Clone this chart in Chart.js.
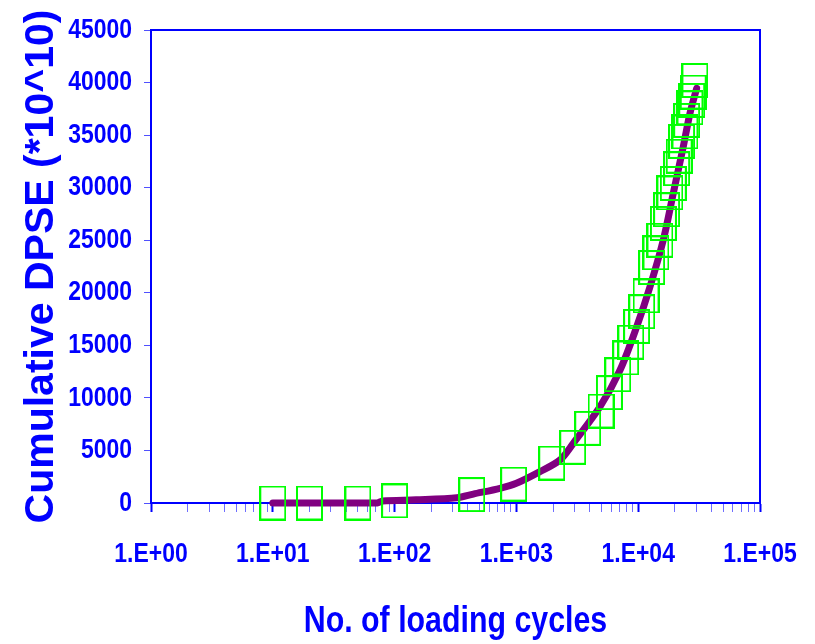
<!DOCTYPE html>
<html lang="en">
<head>
    <meta charset="UTF-8">
    <title>Cumulative DPSE vs loading cycles</title>
    <script src="https://cdn.jsdelivr.net/npm/chart.js"></script>
    <style>
        body {
            margin: 0;
            background: #fff;
        }
        #wrap {
            width: 815px;
            height: 644px;
        }
    </style>
</head>
<body>
    <div id="wrap">
        <canvas id="dpse-chart" width="815" height="644"></canvas>
    </div>

    <script>
        // Measured points (green boxes)
        const markerCycles = [10, 20, 50, 100, 430, 950, 1950, 2900, 3850, 4950, 5800, 6800, 7900, 8700, 9700,
            10700, 11600, 12900, 14000, 15100, 16100, 17100, 18200, 19400, 20700, 21700, 22700, 24200, 25000,
            26600, 27500, 28300, 29200];
        const markerDpse = [0, 0, 0, 200, 800, 1800, 3800, 5300, 7100, 8750, 10500, 12200, 13800, 15300, 16800,
            18200, 19700, 22400, 23800, 25000, 26600, 27900, 29500, 30400, 31800, 33000, 34400, 35300, 36400,
            37600, 38300, 39100, 40200];

        // Continuous curve (purple)
        const curveCycles = [10, 20, 50, 72, 80, 150, 324, 443, 733, 1000, 1560, 2280, 2930, 4860, 7100, 9720,
            12500, 16070, 19410, 23440, 26610, 30200];
        const curveDpse = [0, 0, 0, 0, 200, 300, 500, 850, 1400, 1870, 2980, 4090, 5680, 9160, 12650, 16770,
            20580, 25020, 29460, 33900, 37070, 39450];

        const xDecades = [1, 10, 100, 1000, 10000, 100000];
        const xTickLabels = ['1.E+00', '1.E+01', '1.E+02', '1.E+03', '1.E+04', '1.E+05'];
        const yTickValues = [0, 5000, 10000, 15000, 20000, 25000, 30000, 35000, 40000, 45000];

        const BLUE = '#0000ff';
        // no narrow face installed: Liberation Sans gets squeezed sideways when this name is asked for
        const narrow = '"Arial Narrow", "Liberation Sans", Arial, sans-serif';
        const SQUEEZE = 0.82;

        // hollow box marker, a bit taller than wide like the original
        function boxMarker(w, h) {
            const c = document.createElement('canvas');
            c.width = w + 2;
            c.height = h + 2;
            const g = c.getContext('2d');
            g.strokeStyle = '#00ff00';
            g.lineWidth = 2;
            g.strokeRect(1, 1, w, h);
            return c;
        }
        const marker = boxMarker(25, 33);

        // box around the plot area
        const frame = {
            id: 'frame',
            beforeDatasetsDraw(chart) {
                const a = chart.chartArea;
                const ctx = chart.ctx;
                ctx.save();
                ctx.strokeStyle = BLUE;
                ctx.lineWidth = 2;
                ctx.strokeRect(a.left, a.top, a.right - a.left, a.bottom - a.top);
                ctx.restore();
            }
        };

        const ctx = document.getElementById('dpse-chart').getContext('2d');

        // condensed text hack
        const origFillText = ctx.fillText.bind(ctx);
        ctx.fillText = function (text, x, y, maxWidth) {
            if (this.font.indexOf('Arial Narrow') < 0) {
                return maxWidth === undefined ? origFillText(text, x, y) : origFillText(text, x, y, maxWidth);
            }
            this.save();
            this.translate(x, y);
            this.scale(SQUEEZE, 1);
            origFillText(text, 0, 0);
            this.restore();
        };

        new Chart(ctx, {
            type: 'scatter',
            data: {
                datasets: [{
                    label: 'Measured',
                    data: markerCycles.map((x, i) => ({ x: x, y: markerDpse[i] })),
                    pointStyle: marker,
                    pointRadius: 12,
                    showLine: false,
                    clip: false
                }, {
                    label: 'Curve',
                    data: curveCycles.map((x, i) => ({ x: x, y: curveDpse[i] })),
                    showLine: true,
                    borderColor: '#800080',
                    borderWidth: 7,
                    borderCapStyle: 'round',
                    borderJoinStyle: 'round',
                    tension: 0.3,
                    pointRadius: 0,
                    clip: false
                }]
            },
            options: {
                responsive: false,
                animation: false,
                layout: {
                    padding: { left: 0, top: 30, right: 55, bottom: 0 }
                },
                plugins: {
                    legend: { display: false },
                    tooltip: { enabled: false }
                },
                scales: {
                    x: {
                        type: 'logarithmic',
                        min: 1,
                        max: 100000,
                        afterBuildTicks: scale => {
                            const ticks = [];
                            xDecades.forEach((d, i) => {
                                ticks.push({ value: d, major: true });
                                if (i < xDecades.length - 1) {
                                    for (let k = 2; k <= 9; k++) ticks.push({ value: d * k, major: false });
                                }
                            });
                            scale.ticks = ticks;
                        },
                        afterFit: scale => {
                            scale.height = 141;
                            scale.paddingLeft = 0;
                            scale.paddingRight = 0;
                        },
                        border: { display: true, color: BLUE, width: 2 },
                        grid: {
                            drawOnChartArea: false,
                            drawTicks: true,
                            tickLength: 9,
                            tickColor: c => (c.tick && c.tick.major) ? BLUE : '#6f6fff',
                            tickWidth: c => (c.tick && c.tick.major) ? 2 : 1
                        },
                        ticks: {
                            autoSkip: false,
                            maxRotation: 0,
                            padding: 25,
                            color: BLUE,
                            font: { family: narrow, size: 28, weight: 'bold' },
                            callback: value => {
                                const i = xDecades.indexOf(value);
                                return i >= 0 ? xTickLabels[i] : '';
                            }
                        },
                        title: {
                            display: true,
                            text: 'No. of loading cycles',
                            color: BLUE,
                            font: { family: narrow, size: 37, weight: 'bold' },
                            padding: { top: 0, bottom: 0 }
                        }
                    },
                    y: {
                        min: 0,
                        max: 45000,
                        afterBuildTicks: scale => {
                            scale.ticks = yTickValues.map(v => ({ value: v }));
                        },
                        afterFit: scale => {
                            scale.width = 151;
                            scale.paddingTop = 0;
                            scale.paddingBottom = 0;
                        },
                        border: { display: true, color: BLUE, width: 2 },
                        grid: {
                            drawOnChartArea: false,
                            drawTicks: true,
                            tickLength: 7,
                            tickColor: '#5050ff'
                        },
                        ticks: {
                            padding: 12,
                            color: BLUE,
                            font: { family: narrow, size: 28, weight: 'bold' },
                            callback: value => String(value)
                        },
                        title: {
                            display: true,
                            text: 'Cumulative DPSE (*10^10)',
                            color: BLUE,
                            font: { family: '"Liberation Sans", Arial, sans-serif', size: 41, weight: 'bold' },
                            padding: { top: 17, bottom: 0 }
                        }
                    }
                }
            },
            plugins: [frame]
        });
    </script>
</body>
</html>
